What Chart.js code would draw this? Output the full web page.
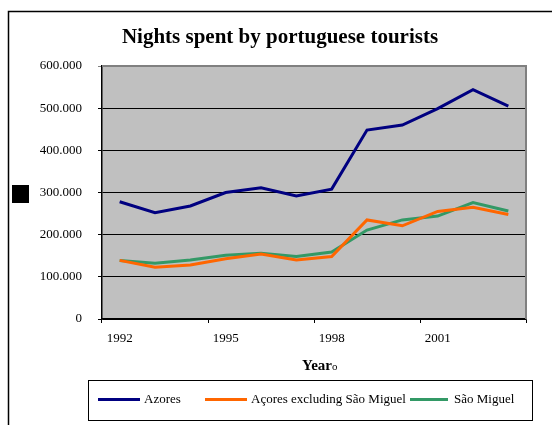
<!DOCTYPE html>
<html>
<head>
<meta charset="utf-8">
<title>Nights spent by portuguese tourists</title>
<script src="https://cdn.jsdelivr.net/npm/chart.js@4.4.0/dist/chart.umd.min.js"></script>
<style>
    html, body { margin: 0; padding: 0; background: #fff; }
    #wrap { position: relative; width: 552px; height: 425px; }
</style>
</head>
<body>
<div id="wrap"><canvas id="chart" width="552" height="425"></canvas></div>
<script>
// Datos
const years = ['1992', '1993', '1994', '1995', '1996', '1997', '1998', '1999', '2000', '2001', '2002', '2003'];
const labeledYears = ['1992', '1995', '1998', '2001'];
const azores = [278000, 252000, 268000, 300000, 311000, 292000, 308000, 448000, 460000, 499000, 544000, 505000];
const acoresExcl = [139000, 123000, 128000, 143000, 154000, 140000, 148000, 235000, 221000, 255000, 265000, 248000];
const saoMiguel = [139000, 132000, 140000, 151000, 156000, 148000, 159000, 211000, 235000, 244000, 276000, 256000];
const seriesNames = ['Azores', 'Açores excluding São Miguel', 'São Miguel'];
const seriesColors = ['#000080', '#FF6600', '#339966'];
const yMin = 0;
const yMax = 600000;
const yStep = 100000;
const chartTitle = 'Nights spent by portuguese tourists';
const xTitle = 'Year';

const serif = "'Liberation Serif', 'Times New Roman', serif";

function formatThousands(v) {
    return String(v).replace(/\B(?=(\d{3})+(?!\d))/g, '.');
}

// Fondo gris del area de trazado
const plotBackground = {
    id: 'plotBackground',
    beforeDraw(chart) {
        const { ctx, chartArea: a } = chart;
        ctx.save();
        ctx.fillStyle = '#fff';
        ctx.fillRect(0, 0, chart.width, chart.height);
        ctx.fillStyle = '#C0C0C0';
        ctx.fillRect(a.left, a.top, a.right - a.left, a.bottom - a.top);
        ctx.restore();
    }
};

// Titulo, leyenda, borde y demas adornos
const decorations = {
    id: 'decorations',
    afterDraw(chart) {
        const { ctx, chartArea: a } = chart;
        ctx.save();

        // Borde gris arriba y a la derecha
        ctx.strokeStyle = '#808080';
        ctx.lineWidth = 2;
        ctx.beginPath();
        ctx.moveTo(a.left, a.top);
        ctx.lineTo(a.right, a.top);
        ctx.lineTo(a.right, a.bottom);
        ctx.stroke();

        // Borde exterior
        ctx.strokeStyle = '#000';
        ctx.lineWidth = 1.5;
        ctx.strokeRect(8.5, 11.5, 700, 700);

        // Titulo
        ctx.fillStyle = '#000';
        ctx.textAlign = 'center';
        ctx.textBaseline = 'middle';
        ctx.font = 'bold 21px ' + serif;
        ctx.fillText(chartTitle, 280, 38);

        // Titulo del eje X
        ctx.textAlign = 'left';
        ctx.font = 'bold 15px ' + serif;
        ctx.fillText(xTitle, 302, 366);
        const w = ctx.measureText(xTitle).width;
        ctx.font = '11px ' + serif;
        ctx.fillText('o', 302 + w, 367);

        // Cuadro negro a la izquierda
        ctx.fillRect(12, 185, 17, 18);

        // Leyenda
        ctx.strokeStyle = '#000';
        ctx.lineWidth = 1;
        ctx.strokeRect(88.5, 380.5, 444, 40);
        const lineStarts = [98, 205, 410];
        const lineEnds = [140, 247, 448];
        const textStarts = [144, 251, 454];
        ctx.font = '13px ' + serif;
        ctx.lineWidth = 3;
        seriesNames.forEach((name, i) => {
            ctx.strokeStyle = seriesColors[i];
            ctx.beginPath();
            ctx.moveTo(lineStarts[i], 399.5);
            ctx.lineTo(lineEnds[i], 399.5);
            ctx.stroke();
            ctx.fillStyle = '#000';
            ctx.fillText(name, textStarts[i], 400);
        });

        ctx.restore();
    }
};

const dataSets = [azores, acoresExcl, saoMiguel].map((values, i) => ({
    label: seriesNames[i],
    data: values,
    borderColor: seriesColors[i],
    backgroundColor: seriesColors[i],
    borderWidth: 3,
    pointRadius: 0,
    tension: 0,
    fill: false
}));

new Chart(document.getElementById('chart'), {
    type: 'line',
    data: { labels: years, datasets: dataSets },
    plugins: [plotBackground, decorations],
    options: {
        responsive: false,
        animation: false,
        devicePixelRatio: 1,
        layout: { padding: { left: 10, right: 26, top: 66, bottom: 76 } },
        plugins: {
            legend: { display: false },
            title: { display: false },
            tooltip: { enabled: false }
        },
        scales: {
            x: {
                type: 'category',
                offset: true,
                afterFit(scale) { scale.height = 30; },
                grid: {
                    offset: true,
                    drawOnChartArea: false,
                    tickLength: 4,
                    color: ctx => (ctx.index === undefined || ctx.index % 3 === 0) ? '#000' : 'rgba(0,0,0,0)'
                },
                border: { display: true, color: '#000', width: 1.5 },
                ticks: {
                    autoSkip: false,
                    maxRotation: 0,
                    padding: 8,
                    color: '#000',
                    font: { family: serif, size: 13 },
                    callback: (v, i) => labeledYears.includes(years[i]) ? years[i] : ''
                }
            },
            y: {
                min: yMin,
                max: yMax,
                afterFit(scale) { scale.width = 92; },
                grid: {
                    color: ctx => (ctx.tick && ctx.tick.value === yMax) ? '#808080' : '#000',
                    tickLength: 4,
                    lineWidth: 1
                },
                border: { display: true, color: '#000', width: 1.5 },
                ticks: {
                    stepSize: yStep,
                    padding: 16,
                    color: '#000',
                    font: { family: serif, size: 13 },
                    callback: v => formatThousands(v)
                }
            }
        }
    }
});
</script>
</body>
</html>
